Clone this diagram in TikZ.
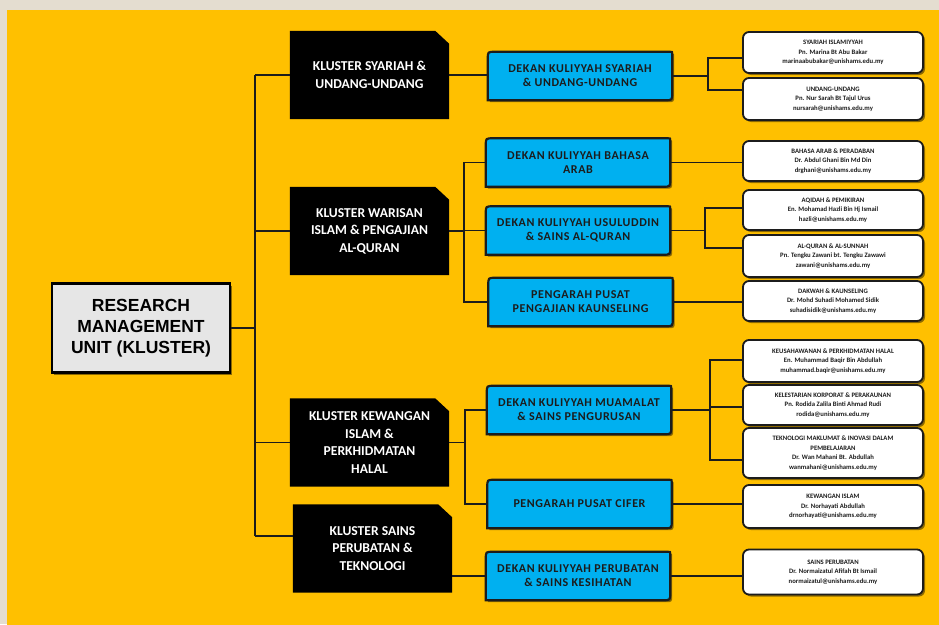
\documentclass[tikz,border=0pt]{standalone}
\usepackage{fontspec}
\setmainfont{Carlito}
\newfontfamily\arialb{Liberation Sans}
\usetikzlibrary{shadows,calc}
\definecolor{bgyel}{HTML}{FFC000}
\definecolor{frm}{HTML}{E4DDD0}
\definecolor{dblue}{HTML}{00B0F0}
\definecolor{lgray}{HTML}{E6E6E6}
\definecolor{ink}{HTML}{1C1C1C}
\pgfdeclarelayer{bg}
\pgfsetlayers{bg,main}
\begin{document}
\begin{tikzpicture}[x=1pt,y=-1pt,
  conn/.style={draw=ink,line width=1.7pt},
  shad/.style={drop shadow={shadow xshift=2pt,shadow yshift=-2pt,opacity=0.45,fill=black}},
  rootbox/.style={draw=black,line width=2.6pt,fill=lgray,minimum width=178pt,minimum height=89pt,align=center,
    font=\arialb\bfseries\fontsize{17.5}{21}\selectfont,shad},
  clus/.style={minimum width=159pt,minimum height=88pt,align=center,text=white,
    font=\bfseries\fontsize{13.6}{17.5}\selectfont},
  dept/.style={minimum width=184pt,minimum height=48pt,align=center,text=ink,
    font=\bfseries\addfontfeature{LetterSpace=5}\fontsize{12}{14}\selectfont},
  deptframe/.style={draw=ink,line width=2.2pt,fill=dblue,shad},
  pers/.style={draw=ink,line width=1.8pt,fill=white,rounded corners=6pt,minimum width=180pt,align=center,
    inner sep=1pt,text=ink,font=\bfseries\fontsize{6.7}{9.5}\selectfont,shad}
]
\useasboundingbox (0,0) rectangle (939,624);

% nodes
\node[rootbox] (root) at (141,328) {RESEARCH\\MANAGEMENT\\UNIT (KLUSTER)};

\node[clus] (c1) at (369.5,75) {KLUSTER SYARIAH \&\\UNDANG-UNDANG};
\node[clus] (c2) at (369.5,231) {KLUSTER WARISAN\\ISLAM \& PENGAJIAN\\AL-QURAN};
\node[clus] (c3) at (369.5,442.5) {KLUSTER KEWANGAN\\ISLAM \&\\PERKHIDMATAN\\HALAL};
\node[clus] (c4) at (372.5,548.5) {KLUSTER SAINS\\PERUBATAN \&\\TEKNOLOGI};

\node[dept] (d1) at (580,76) {DEKAN KULIYYAH SYARIAH\\\& UNDANG-UNDANG};
\node[dept] (d2) at (578,162.5) {DEKAN KULIYYAH BAHASA\\ARAB};
\node[dept] (d3) at (578,230.5) {DEKAN KULIYYAH USULUDDIN\\\& SAINS AL-QURAN};
\node[dept] (d4) at (580.5,302) {PENGARAH PUSAT\\PENGAJIAN KAUNSELING};
\node[dept] (d5) at (579,410) {DEKAN KULIYYAH MUAMALAT\\\& SAINS PENGURUSAN};
\node[dept] (d6) at (579.5,504) {PENGARAH PUSAT CIFER};
\node[dept] (d7) at (578,576) {DEKAN KULIYYAH PERUBATAN\\\& SAINS KESIHATAN};

\node[pers,minimum height=41pt] (r1) at (833,52.5) {SYARIAH ISLAMIYYAH\\Pn. Marina Bt Abu Bakar\\marinaabubakar@unishams.edu.my};
\node[pers,minimum height=42pt] (r2) at (833,99) {UNDANG-UNDANG\\Pn. Nur Sarah Bt Tajul Urus\\nursarah@unishams.edu.my};
\node[pers,minimum height=40pt] (r3) at (833,161) {BAHASA ARAB \& PERADABAN\\Dr. Abdul Ghani Bin Md Din\\drghani@unishams.edu.my};
\node[pers,minimum height=40pt] (r4) at (833,210) {AQIDAH \& PEMIKIRAN\\En. Mohamad Hazli Bin Hj Ismail\\hazli@unishams.edu.my};
\node[pers,minimum height=42pt] (r5) at (833,256) {AL-QURAN \& AL-SUNNAH\\Pn. Tengku Zawani bt. Tengku Zawawi\\zawani@unishams.edu.my};
\node[pers,minimum height=40pt] (r6) at (833,301) {DAKWAH \& KAUNSELING\\Dr. Mohd Suhadi Mohamed Sidik\\suhadisidik@unishams.edu.my};
\node[pers,minimum height=42pt] (r7) at (833,361) {KEUSAHAWANAN \& PERKHIDMATAN HALAL\\En. Muhammad Baqir Bin Abdullah\\muhammad.baqir@unishams.edu.my};
\node[pers,minimum height=40pt] (r8) at (833,405) {KELESTARIAN KORPORAT \& PERAKAUNAN\\Pn. Rodida Zalila Binti Ahmad Rudi\\rodida@unishams.edu.my};
\node[pers,minimum height=50pt] (r9) at (833,453) {TEKNOLOGI MAKLUMAT \& INOVASI DALAM\\PEMBELAJARAN\\Dr. Wan Mahani Bt. Abdullah\\wanmahani@unishams.edu.my};
\node[pers,minimum height=43pt] (r10) at (833,506.5) {KEWANGAN ISLAM\\Dr. Norhayati Abdullah\\drnorhayati@unishams.edu.my};
\node[pers,minimum height=45pt] (r11) at (833,572) {SAINS PERUBATAN\\Dr. Normaizatul Afifah Bt Ismail\\normaizatul@unishams.edu.my};

% backgrounds and frames
\begin{pgfonlayer}{bg}
  \fill[frm] (0,0) rectangle (939,624);
  \fill[bgyel] (7,10) rectangle (941,626);
  \foreach \n in {c1,c2,c3,c4}{
    \fill[black] (\n.south west) -- (\n.north west) -- ($(\n.north east)+(-14,0)$)
      -- ($(\n.north east)+(0,13)$) -- (\n.south east) -- cycle;
  }
  \foreach \n in {d1,d2,d3,d4,d5,d6,d7}{
    \path[deptframe] (\n.south west)
      -- ($(\n.north west)+(0,7)$) .. controls (\n.north west) .. ($(\n.north west)+(7,0)$)
      -- ($(\n.north east)+(-2,0)$) .. controls (\n.north east) .. ($(\n.north east)+(0,2)$)
      -- ($(\n.south east)+(0,-7)$) .. controls (\n.south east) .. ($(\n.south east)+(-7,0)$)
      -- cycle;
  }
\end{pgfonlayer}

% connectors
\coordinate (t1) at (255,75);
\coordinate (t4) at (255,536);
\draw[conn] (root.east) -- (root.east -| t1);
\draw[conn] (t1) -- (t4);
\draw[conn] (t1) -- (c1.west);
\draw[conn] (c2.west -| t1) -- (c2.west);
\draw[conn] (c3.west -| t1) -- (c3.west);
\draw[conn] (t4) -- (t4 -| c4.west);

\draw[conn] (c1.east) -- (c1.east -| d1.west);
\coordinate (b2) at (464,0);
\draw[conn] (c2.east) -- (c2.east -| b2);
\draw[conn] (d2.west) -| (b2 |- d4.west) -- (d4.west);
\draw[conn] (d3.west -| b2) -- (d3.west);
\coordinate (b3) at (465,0);
\draw[conn] (c3.east) -- (c3.east -| b3);
\draw[conn] (d5.west) -| (b3 |- d6.west) -- (d6.west);
\draw[conn] (c4.east |- d7.west) -- (d7.west);

\coordinate (k1) at (708,58);
\coordinate (k2) at (708,90);
\draw[conn] (d1.east) -- (d1.east -| k1);
\draw[conn] (k1 -| r1.west) -| (k2) -- (k2 -| r2.west);
\draw[conn] (d2.east) -- (d2.east -| r3.west);
\coordinate (k3) at (705,208);
\coordinate (k4) at (705,248);
\draw[conn] (d3.east) -- (d3.east -| k3);
\draw[conn] (k3 -| r4.west) -| (k4) -- (k4 -| r5.west);
\draw[conn] (d4.east) -- (d4.east -| r6.west);
\coordinate (k5) at (710,360);
\coordinate (k6) at (710,407);
\coordinate (k7) at (710,460);
\draw[conn] (d5.east) -- (d5.east -| k5);
\draw[conn] (k5 -| r7.west) -| (k7) -- (k7 -| r9.west);
\draw[conn] (k6) -- (k6 -| r8.west);
\draw[conn] (d6.east) -- (d6.east -| r10.west);
\draw[conn] (d7.east) -- (d7.east -| r11.west);
\end{tikzpicture}
\end{document}
